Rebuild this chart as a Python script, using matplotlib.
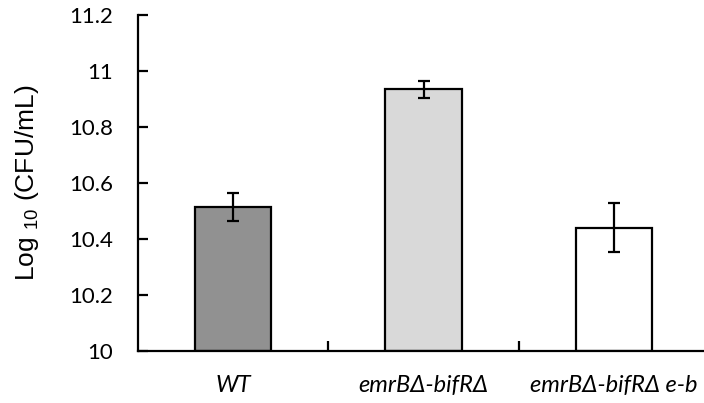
import matplotlib
matplotlib.use("Agg")
from matplotlib import pyplot as plt
import numpy as np

strains = ["WT", "emrB\u0394-bifR\u0394", "emrB\u0394-bifR\u0394 e-b"]
log_cfu = [10.515, 10.935, 10.44]
err = [0.05, 0.03, 0.088]
colors = ["#919191", "#d9d9d9", "#ffffff"]

plt.rcParams["font.family"] = ["Lato", "DejaVu Sans"]
plt.rcParams["mathtext.default"] = "regular"

fig = plt.figure(figsize=(7.04, 4.03), dpi=100)
ax = fig.add_axes([138 / 704, 52 / 403, 571 / 704, 336 / 403])

x = np.arange(len(strains))
ax.bar(x, np.array(log_cfu) - 10, bottom=10, width=0.4, color=colors,
       edgecolor="black", linewidth=1.6, zorder=2)
ax.errorbar(x, log_cfu, yerr=err, fmt="none", ecolor="black",
            elinewidth=1.6, capsize=4, capthick=1.6, zorder=3)

ax.set_xlim(-0.5, 2.5)
ax.set_ylim(10, 11.2)
ax.set_yticks([10, 10.2, 10.4, 10.6, 10.8, 11, 11.2])
ax.set_yticklabels(["10", "10.2", "10.4", "10.6", "10.8", "11", "11.2"])

ax.set_xticks(x)
ax.set_xticklabels(strains, style="italic", fontsize=17)
ax.set_xticks([0.5, 1.5], minor=True)
ax.tick_params(axis="x", which="major", length=0, pad=17)
ax.tick_params(axis="x", which="minor", direction="in", length=7, width=1.6)
ax.tick_params(axis="y", direction="in", length=7, width=1.6, labelsize=16, pad=18)

for side in ["top", "right"]:
    ax.spines[side].set_visible(False)
for side in ["left", "bottom"]:
    ax.spines[side].set_linewidth(1.6)

ax.set_ylabel("Log $_{10}$ (CFU/mL)", fontsize=19, family=["Liberation Sans"],
              labelpad=20)

plt.savefig("out.png", dpi=100)
